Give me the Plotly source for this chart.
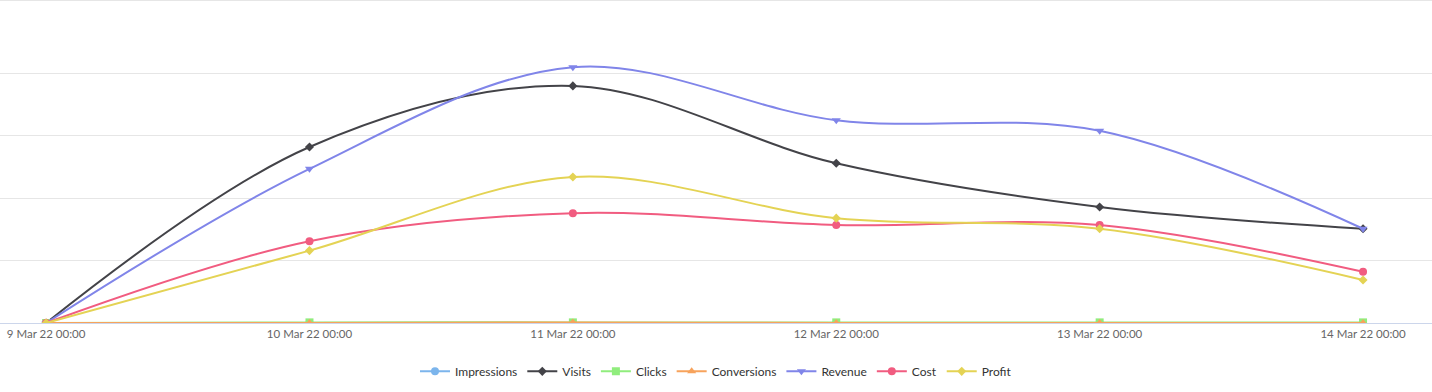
import plotly.graph_objects as go

dates = ["2022-03-09", "2022-03-10", "2022-03-11", "2022-03-12", "2022-03-13", "2022-03-14"]
impressions = [0, 0, 0, 0, 0, 0]
visits = [0, 282, 380, 256, 186, 151]
clicks = [0, 1, 1, 1, 1, 1]
conversions = [0, 0, 1, 0, 0, 0]
revenue = [0, 247, 410, 325, 308, 151]
cost = [0, 131, 176, 157, 157, 82]
profit = [0, 116, 234, 168, 151, 69]

series = [
    ("Impressions", impressions, "#7cb5ec", "circle"),
    ("Visits", visits, "#434348", "diamond"),
    ("Clicks", clicks, "#90ed7d", "square"),
    ("Conversions", conversions, "#f7a35c", "triangle-up"),
    ("Revenue", revenue, "#8085e9", "triangle-down"),
    ("Cost", cost, "#f15c80", "circle"),
    ("Profit", profit, "#e4d354", "diamond"),
]

fig = go.Figure()
for name, vals, color, sym in series:
    fig.add_trace(go.Scatter(
        x=dates, y=vals, name=name, mode="lines+markers",
        line=dict(color=color, width=2, shape="spline", smoothing=1.0),
        marker=dict(color=color, symbol=sym, size=8 if sym != "diamond" else 7),
    ))

fig.update_layout(
    width=1432, height=392,
    margin=dict(l=0, r=0, t=11, b=69),
    paper_bgcolor="white", plot_bgcolor="white",
    font=dict(family="Lato, sans-serif", color="#666666", size=11.5),
    showlegend=True,
    legend=dict(orientation="h", x=0.5, xanchor="center", y=-0.155, yanchor="middle",
                font=dict(size=12, color="#333333"), itemwidth=30, tracegroupgap=0),
    xaxis=dict(
        type="date",
        range=["2022-03-08 19:48", "2022-03-14 06:17"],
        tickvals=dates,
        tickformat="%-d %b %y %H:%M",
        showgrid=False, showline=True, linecolor="#ccd6eb", linewidth=1,
        ticks="", zeroline=False, tickfont=dict(size=11.5, color="#666666"),
    ),
    yaxis=dict(
        range=[0, 500], dtick=100, showticklabels=False,
        gridcolor="#e6e6e6", zeroline=False, showline=False,
    ),
    shapes=[dict(type="line", xref="paper", yref="paper", x0=0, x1=1,
                 y0=1 + 10.5 / 312, y1=1 + 10.5 / 312,
                 line=dict(color="#e6e6e6", width=1))],
)

fig.write_html("out.html", config={"displayModeBar": False},
               post_script="document.body.style.margin='0';")
